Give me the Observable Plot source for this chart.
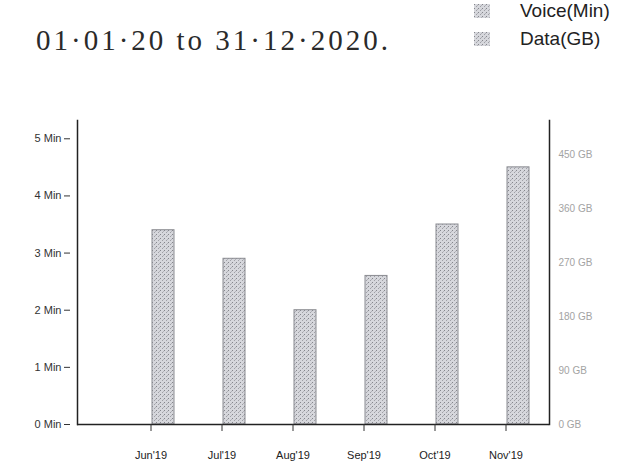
<!DOCTYPE html>
<html>
<head>
<meta charset="utf-8">
<script src="https://cdn.jsdelivr.net/npm/d3@7"></script>
<script src="https://cdn.jsdelivr.net/npm/@observablehq/plot@0.6"></script>
<style>
  html, body { margin: 0; padding: 0; background: #fff; width: 629px; height: 473px; overflow: hidden; }
  #header { position: relative; width: 629px; height: 90px; font-family: "Liberation Sans", Arial, sans-serif; }
  #title { position: absolute; left: 36px; top: 24px; font-family: "Liberation Serif", "DejaVu Serif", serif; font-size: 29px; letter-spacing: 3px; color: #2a2a2a; white-space: nowrap; }
  .leg { position: absolute; left: 474px; display: flex; align-items: center; font-size: 19px; line-height: 22px; color: #222; white-space: nowrap; }
  .leg svg { margin-right: 30px; }
  #chart svg { display: block; }
</style>
</head>
<body>
<svg width="0" height="0" style="position:absolute">
  <defs>
    <pattern id="stipple" width="4" height="4" patternUnits="userSpaceOnUse">
      <rect width="4" height="4" fill="#d6d7dc"></rect>
      <rect x="0" y="0" width="1" height="1" fill="#85868c"></rect>
      <rect x="2" y="2" width="1" height="1" fill="#9fa0a6"></rect>
      <rect x="3" y="1" width="1" height="1" fill="#b2b3b9"></rect>
    </pattern>
  </defs>
</svg>
<div id="header">
  <div id="title">01·01·20 to 31·12·2020.</div>
  <div class="leg" style="top:0px"><svg width="16" height="14"><rect width="16" height="14" fill="url(#stipple)"></rect></svg><span id="leg0"></span></div>
  <div class="leg" style="top:28px"><svg width="16" height="14"><rect width="16" height="14" fill="url(#stipple)"></rect></svg><span id="leg1"></span></div>
</div>
<div id="chart"></div>
<script>
const months = ["Jun'19", "Jul'19", "Aug'19", "Sep'19", "Oct'19", "Nov'19"];
const usageMin = [3.4, 2.9, 2.0, 2.6, 3.5, 4.5];
const seriesLabels = ["Voice(Min)", "Data(GB)"];
const minTicks = [0, 1, 2, 3, 4, 5];
const gbTicks = [0, 90, 180, 270, 360, 450];
const gbPerMin = 95.5; // right-axis scale relative to left axis

document.getElementById("leg0").textContent = seriesLabels[0];
document.getElementById("leg1").textContent = seriesLabels[1];

const table = months.map((m, i) => ({month: m, value: usageMin[i]}));

const chart = Plot.plot({
  width: 629,
  height: 383,
  marginTop: 30,
  marginBottom: 49,
  marginLeft: 77,
  marginRight: 80,
  style: {fontFamily: "'Liberation Sans', Arial, sans-serif", background: "#fff", color: "#333"},
  x: {domain: months, paddingInner: 0, paddingOuter: 0.278, align: 0.825, label: null},
  y: {domain: [0, 5.32], label: null},
  marks: [
    Plot.barY(table, {x: "month", y: "value", fill: "url(#stipple)", stroke: "#8a8b91", strokeWidth: 1, insetLeft: 37, insetRight: 12}),
    Plot.frame({anchor: "left", stroke: "#222", strokeWidth: 1.5}),
    Plot.frame({anchor: "right", stroke: "#222", strokeWidth: 1.5}),
    Plot.ruleY([0], {stroke: "#222", strokeWidth: 1.5}),
    Plot.axisY({ticks: minTicks, tickFormat: d => `${d} Min`, tickSize: 6, tickPadding: 3, dx: -7, fontSize: 11, label: null, stroke: "#333"}),
    Plot.axisY({anchor: "right", ticks: gbTicks.map(g => g / gbPerMin), tickFormat: d => `${Math.round(d * gbPerMin)} GB`, tickSize: 0, tickPadding: 9, fontSize: 10, fill: "#a3a3a3", label: null}),
    Plot.axisX({tickSize: 7, tickPadding: 20, fontSize: 11, label: null, stroke: "#333", fill: "#222"})
  ]
});
document.getElementById("chart").appendChild(chart);
</script>
</body>
</html>
